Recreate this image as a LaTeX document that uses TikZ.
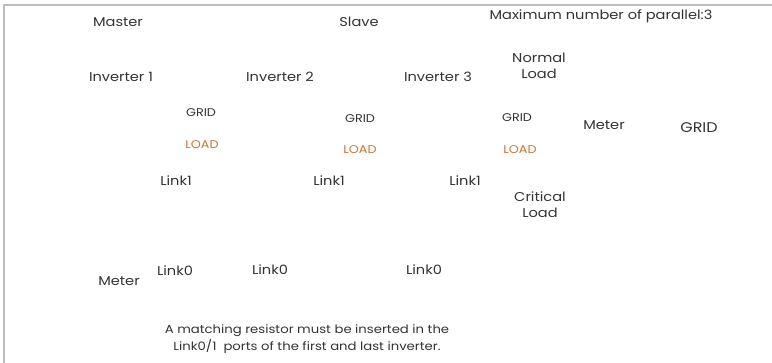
\documentclass[tikz,border=0pt]{standalone}
\usepackage{fontspec}
\setmainfont{Poppins}[FakeStretch=1.14]
\definecolor{txt}{HTML}{333333}
\definecolor{loadc}{HTML}{C87533}
\definecolor{frame}{HTML}{BDBDBD}
\tikzset{
  lbl/.style={inner sep=0pt, text=txt, font=\fontsize{12.8}{16}\selectfont, align=center},
  small/.style={inner sep=0pt, text=txt, font=\fontsize{11.2}{12}\selectfont},
  loadlbl/.style={inner sep=0pt, text=loadc, font=\fontsize{11.2}{12}\selectfont},
  note/.style={inner sep=0pt, text=txt, font=\fontsize{11.6}{17}\selectfont, align=center},
  border/.style={draw=frame, line width=2pt}
}
\begin{document}
\begin{tikzpicture}[x=1pt,y=-1pt]
\useasboundingbox (0,0) rectangle (772,363);
\coordinate (tl) at (4,5.5);
\coordinate (tr) at (772,5.5);
\coordinate (bl) at (4,363);
\draw[border] (tr) -- (tl) -- (bl);
\node[lbl] (master) at (118,22) {Master};
\node[lbl] (slave) at (359,22) {Slave};
\node[lbl] (maxpar) at (601,16) {Maximum number of parallel:3};
\node[lbl] (nload) at (539,66) {Normal\\Load};
\node[lbl] (inv1) at (121,77) {Inverter 1};
\node[lbl] (inv2) at (280,77) {Inverter 2};
\node[lbl] (inv3) at (438,77) {Inverter 3};
\node[small] (grid1) at (201,113) {GRID};
\node[small] (grid2) at (360,119) {GRID};
\node[small] (grid3) at (517,118) {GRID};
\node[loadlbl] (load1) at (202,145) {LOAD};
\node[loadlbl] (load2) at (360,150) {LOAD};
\node[loadlbl] (load3) at (520,150) {LOAD};
\node[lbl] (meterr) at (604,125) {Meter};
\node[lbl, font=\fontsize{14}{16}\selectfont] (gridr) at (699,128) {GRID};
\node[lbl] (linka) at (176,181) {Link1};
\node[lbl] (linkb) at (329,181) {Link1};
\node[lbl] (linkc) at (465,181) {Link1};
\node[lbl] (cload) at (540,205) {Critical\\Load};
\node[lbl] (meterl) at (119,281) {Meter};
\node[lbl] (linkd) at (175,271) {Link0};
\node[lbl] (linke) at (270,270) {Link0};
\node[lbl] (linkf) at (424,270) {Link0};
\node[note] (fn) at (307,339) {A matching resistor must be inserted in the\\Link0/1\ \ ports of the first and last inverter.};
\end{tikzpicture}
\end{document}
